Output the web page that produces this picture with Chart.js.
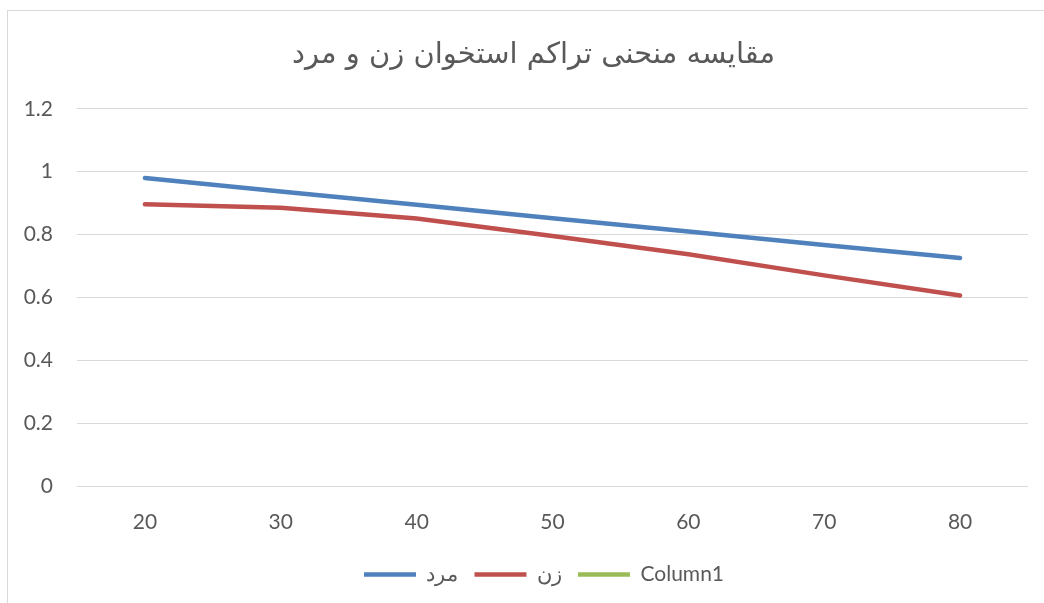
<!DOCTYPE html>
<html>
<head>
<meta charset="utf-8">
<script src="https://cdn.jsdelivr.net/npm/chart.js@4"></script>
<style>
  html, body { margin: 0; padding: 0; background: #fff; }
  #wrap { position: relative; width: 1044px; height: 603px; overflow: hidden; }
  #frame { position: absolute; left: 7px; top: 10px; width: 1100px; height: 700px;
           border-left: 1px solid #d9d9d9; border-top: 1px solid #d9d9d9; }
  canvas { position: absolute; left: 0; top: 0; }
</style>
</head>
<body>
<div id="wrap">
  <div id="frame"></div>
  <canvas id="chartBone" width="1044" height="603"></canvas>
</div>
<script>
// سن
const ages = ['20', '30', '40', '50', '60', '70', '80'];
// مرد
const men = [0.98, 0.937, 0.895, 0.852, 0.81, 0.767, 0.725];
// زن
const women = [0.896, 0.885, 0.851, 0.795, 0.737, 0.670, 0.606];
const column1 = [];

const textColor = '#595959';
const tickFont = { family: 'Lato', size: 21 };

// titre et légende un peu décalés vers la droite, comme dans Excel
const shiftBoxes = {
  id: 'shiftBoxes',
  afterLayout(chart) {
    chart.titleBlock.left += 39;
    chart.legend.left += 60;
  }
};

const ctx = document.getElementById('chartBone').getContext('2d');
new Chart(ctx, {
  type: 'line',
  data: {
    labels: ages,
    datasets: [
      { label: 'مرد', data: men, borderColor: '#4F81BD', backgroundColor: '#4F81BD',
        borderWidth: 4.5, pointRadius: 0, borderCapStyle: 'round', tension: 0 },
      { label: 'زن', data: women, borderColor: '#C0504D', backgroundColor: '#C0504D',
        borderWidth: 4.5, pointRadius: 0, borderCapStyle: 'round', tension: 0 },
      { label: 'Column1', data: column1, borderColor: '#9BBB59', backgroundColor: '#9BBB59',
        borderWidth: 4.5, pointRadius: 0, borderCapStyle: 'round' }
    ]
  },
  plugins: [shiftBoxes],
  options: {
    responsive: false,
    animation: false,
    layout: { padding: { left: 0, right: 16, top: 0, bottom: 8 } },
    plugins: {
      title: {
        display: true,
        text: 'مقایسه منحنی تراکم استخوان زن و مرد',
        color: textColor,
        font: { family: 'DejaVu Sans', size: 29, weight: 'normal' },
        padding: { top: 38, bottom: 36 }
      },
      legend: {
        position: 'bottom',
        labels: {
          color: textColor,
          font: tickFont,
          usePointStyle: true,
          pointStyle: 'line',
          pointStyleWidth: 52,
          boxHeight: 21,
          padding: 16
        }
      },
      tooltip: { enabled: false }
    },
    scales: {
      x: {
        offset: true,
        grid: { display: false },
        border: { display: false },
        ticks: { color: textColor, font: tickFont, padding: 16 },
        afterFit: s => { s.height = 62; }
      },
      y: {
        min: 0,
        max: 1.2,
        grid: { color: '#d9d9d9', lineWidth: 1, drawTicks: false },
        border: { display: false },
        ticks: {
          stepSize: 0.2, color: textColor, font: tickFont, padding: 24,
          callback: v => String(+v.toFixed(1))
        },
        afterFit: s => { s.width = 77; }
      }
    }
  }
});
</script>
</body>
</html>
